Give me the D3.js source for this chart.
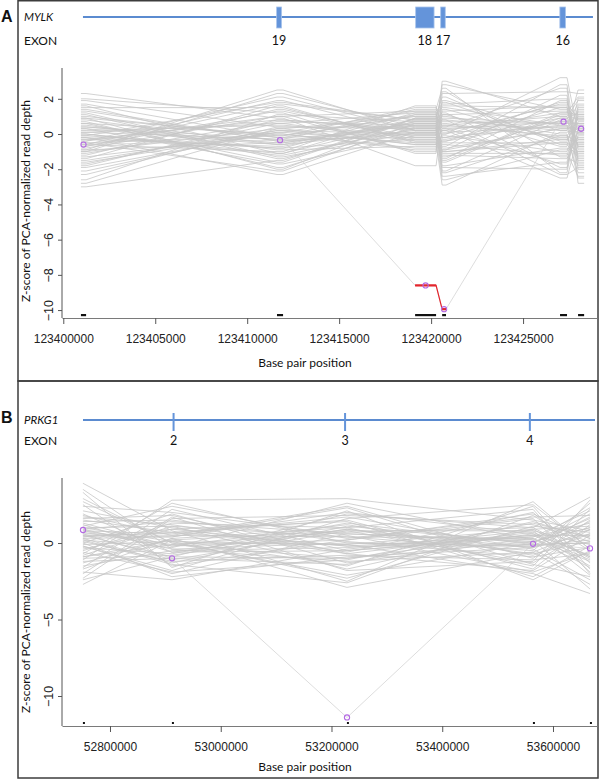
<!DOCTYPE html>
<html>
<head>
<meta charset="utf-8">
<script src="https://cdn.jsdelivr.net/npm/d3@7"></script>
<style>
  body { margin: 0; background: white; }
</style>
</head>
<body>
<main></main>
<script>
/* ---------- MYLK (panel A) ---------- */
const mylkProbeStart = [123400960, 123411620, 123419130, 123420600, 123427010, 123427990]
const mylkProbeEnd   = [123401240, 123411950, 123420270, 123420810, 123427390, 123428320]
const mylkExonNames  = ["19", "18", "17", "16"]
const mylkExonStart  = [123411600, 123419160, 123420520, 123427000]
const mylkExonEnd    = [123411870, 123420160, 123420770, 123427310]
const mylkGeneSpan   = [123401070, 123428800]
const mylkXTicks     = [123400000, 123405000, 123410000, 123415000, 123420000, 123425000]
const mylkYTicks     = [2, 0, -2, -4, -6, -8, -10]
const mylkCase       = [-0.6, -0.35, -8.6, -9.95, 0.7, 0.3]
const mylkCalled     = [2, 3]

// z-scores of the reference samples, one array per probe (same sample order)
const mylkP1 = [0.4, -1.2, 1.6, -0.3, -2.1, 0.9, -0.6, 0.1, -1.7, 1.1,
  -0.9, 0.6, -0.1, -2.6, 0.3, 1.9, -0.5, -1.4, 0.8, -0.2,
  2.3, -1.0, 0.0, -0.7, 1.3, -1.9, 0.5, -0.4, -3.0, 0.2,
  -1.1, 1.0, -0.8, 0.7, -1.5, -0.3, 1.5, -0.6, -2.3, 0.4,
  -0.1, 1.2, -1.3, 0.1, -0.9, 2.0, -0.5, -1.8, 0.9, -0.2,
  -1.0, 0.6, -2.8, 1.4, -0.4, 0.0, -1.6, 0.3, -0.7, 1.7]
const mylkP2 = [-0.5, 1.4, -1.1, 0.8, 0.2, -2.0, 1.9, -0.3, 0.6, -1.4,
  2.5, 0.0, -0.8, 1.1, -1.7, 0.4, -0.1, 1.6, -0.6, -2.3,
  0.9, 0.3, -1.2, 1.3, -0.4, 0.1, -0.9, 2.1, -1.5, 0.5,
  0.7, -0.2, 1.0, -1.9, 0.2, -0.7, 1.5, -1.0, 0.4, -0.3,
  1.8, -1.3, 0.0, 0.6, -0.5, 1.2, -2.1, 0.8, -0.1, -0.8,
  2.3, -1.6, 0.3, -0.4, 1.0, -1.1, 0.1, -0.6, 1.7, -0.2]
const mylkP3 = [0.6, -0.2, 1.1, 0.3, -0.6, 0.9, 0.0, 1.4, -0.4, 0.5,
  0.2, -0.9, 1.2, 0.7, -0.1, 0.4, 1.5, -0.5, 0.8, 0.1,
  -1.8, 1.0, 0.3, -0.3, 0.6, 1.3, -0.7, 0.2, 0.9, -0.1,
  0.5, 1.1, -1.0, 0.4, 0.0, 0.7, -0.4, 1.6, 0.3, -0.2,
  0.8, 0.1, -0.8, 1.2, 0.5, -1.1, 0.6, 0.2, 1.0, -0.3,
  0.4, 0.9, -0.6, 0.0, 1.3, 0.7, -0.5, 0.2, 0.8, 0.1]
const mylkP4 = [1.8, -0.9, 0.3, -2.4, 1.1, 0.5, -1.3, 2.6, -0.2, 0.8,
  -1.8, 0.0, 1.5, -0.6, 3.0, -1.0, 0.4, -2.9, 1.2, -0.4,
  0.9, 2.1, -1.5, 0.2, -0.8, 1.7, -0.1, -2.1, 0.6, 1.3,
  -1.2, 0.1, 2.3, -0.5, -1.6, 1.0, 0.3, -0.3, 2.8, -2.6,
  0.7, -0.7, 1.4, -1.1, 0.0, 1.9, -1.9, 0.5, -0.2, 1.1,
  -1.4, 2.4, -0.9, 0.2, -2.2, 0.8, -0.4, 1.6, -1.0, 0.4]
const mylkP5 = [-0.4, 2.2, 0.7, -1.6, 1.3, -0.1, 0.9, -2.2, 1.8, 0.2,
  -0.8, 3.2, 0.5, -1.2, 1.0, -0.3, 2.6, 0.1, -1.9, 1.5,
  0.6, -0.6, 1.2, -2.5, 0.3, 2.0, -1.0, 0.8, -0.2, 1.6,
  -1.4, 0.4, 2.4, -0.5, 1.1, 0.0, -1.7, 0.9, 1.4, -0.9,
  0.6, 2.8, -0.3, -1.1, 1.7, 0.2, -2.0, 1.0, 0.5, -0.7,
  1.9, -1.3, 0.3, 1.2, -0.1, -2.3, 0.7, 1.5, -0.5, 0.4]
const mylkP6 = [0.9, -1.5, 0.2, 1.6, -0.7, -2.2, 0.5, 1.1, -0.3, 2.5,
  -1.1, 0.0, -1.8, 0.7, 1.9, -0.5, -2.8, 0.3, 1.3, -0.9,
  0.6, -1.3, 2.1, -0.1, 0.4, -2.0, 1.0, -0.6, 1.5, -1.6,
  0.1, -0.4, 2.3, -1.0, 0.8, -2.5, 0.2, 1.2, -0.8, -0.2,
  1.7, -1.4, 0.5, -2.4, 0.9, -0.3, 1.4, -1.2, 0.0, 2.0,
  -0.7, -1.7, 0.6, 1.1, -0.5, -1.9, 0.3, 0.8, -1.0, 0.1]

/* ---------- PRKG1 (panel B) ---------- */
const prkgProbeStart = [52751100, 52911820, 53227850, 53563750, 53666690]
const prkgProbeEnd   = [52751390, 52912120, 53228150, 53564050, 53666980]
const prkgExonNames  = ["2", "3", "4"]
const prkgExonStart  = [52913000, 53222700, 53556400]
const prkgExonEnd    = [52914500, 53224200, 53557900]
const prkgGeneSpan   = [52751240, 53675860]
const prkgXTicks     = [52800000, 53000000, 53200000, 53400000, 53600000]
const prkgYTicks     = [0, -5, -10]
const prkgCase       = [0.85, -1.0, -11.4, -0.05, -0.35]
const prkgCalled     = []

const prkgP1 = [1.2, -0.8, 2.5, 0.3, -1.6, 0.7, 3.9, -0.2, 1.0, -2.3,
  0.5, 1.8, -1.1, 0.1, 2.9, -0.5, 0.9, -1.9, 1.5, 0.0,
  -0.9, 3.3, 0.4, -1.3, 1.1, -0.3, 2.1, 0.6, -2.7, 0.2,
  1.4, -0.6, 0.8, -1.5, 2.4, -0.1, 0.3, 1.7, -1.0, 0.5,
  -2.0, 1.3, 0.0, -0.4, 2.7, 0.9, -1.2, 0.6, 1.9, -0.7,
  0.2, -1.7, 1.0, 3.5, -0.2, 0.4, -0.9, 1.6, -2.4, 0.8]
const prkgP2 = [-0.6, 1.1, -1.5, 0.4, 2.2, -0.2, 0.8, -2.0, 0.1, 1.6,
  -0.9, 0.5, 2.8, -1.2, 0.0, 1.3, -0.4, -2.4, 0.7, 1.9,
  -0.1, -1.6, 0.9, 0.3, 2.4, -0.7, 1.0, -1.1, 0.2, -0.3,
  1.5, -1.9, 0.6, -0.5, 2.0, 0.1, -1.3, 1.2, -0.8, 0.4,
  1.7, -0.2, -2.2, 0.9, 0.0, 1.4, -1.0, 0.5, -0.6, 2.6,
  -1.4, 0.3, 1.1, -0.4, -1.8, 0.7, 0.2, 1.8, -0.9, -0.1]
const prkgP3 = [0.9, -1.7, 0.2, 2.3, -0.5, 1.2, -2.5, 0.6, -0.1, 1.8,
  -1.0, 0.4, 2.9, -0.8, -2.1, 1.0, 0.0, -0.4, 1.5, -1.3,
  0.7, 2.1, -0.2, -2.9, 0.3, 1.3, -0.7, 0.8, -1.5, 2.6,
  0.1, -1.1, 1.7, -0.3, 0.5, -2.3, 1.1, -0.6, 0.9, 2.0,
  -1.8, 0.2, -0.9, 1.4, -0.1, 0.6, -1.4, 2.4, -0.5, 0.0,
  -2.6, 1.0, 0.4, -1.2, 1.6, -0.2, 0.8, -0.7, 1.9, -1.0]
const prkgP4 = [-0.3, 0.9, 1.9, -1.4, 0.4, -0.8, 2.7, 0.1, -2.0, 1.2,
  0.6, -0.5, 1.5, -1.1, 0.0, 2.2, -0.2, 0.8, -1.7, 0.3,
  1.0, -2.4, 0.5, -0.6, 1.7, -0.1, 0.7, -1.3, 2.4, 0.2,
  -0.9, 1.3, -0.4, 0.4, -1.9, 1.1, 0.0, 2.0, -0.7, 0.6,
  -1.2, 1.6, -0.3, -2.2, 0.9, 0.2, 1.4, -1.0, 0.5, -0.1,
  1.8, -1.5, 0.3, -0.6, 2.5, -0.2, 0.8, -1.8, 1.0, 0.1]
const prkgP5 = [1.4, -1.0, 0.3, -2.2, 2.1, 0.6, -0.4, 1.0, -3.3, 0.1,
  -1.5, 2.6, 0.8, -0.7, 1.6, -2.0, 0.2, -0.1, 1.2, -1.2,
  3.0, -0.5, 0.5, -2.7, 1.8, 0.0, -0.9, 0.9, -1.7, 2.3,
  -0.3, 0.4, -2.4, 1.3, -0.6, 0.7, 1.9, -1.3, 0.1, -0.8,
  2.8, -1.9, 0.6, -0.2, 1.1, -3.0, 0.3, 1.5, -1.1, 0.0,
  -0.5, 2.2, -1.6, 0.9, -0.4, 1.7, -2.1, 0.5, -0.9, 1.0]

/* ---------- layout ---------- */
const svgWidth = 600
const svgHeight = 780
const plotLeft = 62
const plotRight = 597
const labelFont = "Lato, 'Open Sans', sans-serif"
const tickFont = "'Liberation Sans', Arial, sans-serif"

let svg = d3.select("main")
  .append("svg")
  .attr("width", svgWidth)
  .attr("height", svgHeight)
  .style("display", "block")
  .style("background-color", "white")

const panels = [
  {
    letter: "A", gene: "MYLK", boxTop: 0.75, boxBottom: 381,
    letterY: 22, geneY: 17, exonTop: 7, exonBottom: 28, exonLabelY: 45, exonMinW: 4,
    xDomain: [123399930, 123429020], yDomain: [-10.45, 3.75], plotTop: 68, plotBottom: 318,
    xTitleY: 367, yTitleY: 201, rugH: 2.2,
    probeStart: mylkProbeStart, probeEnd: mylkProbeEnd,
    columns: [mylkP1, mylkP2, mylkP3, mylkP4, mylkP5, mylkP6],
    caseVals: mylkCase, called: mylkCalled, yTicks: mylkYTicks, xTicks: mylkXTicks,
    exonNames: mylkExonNames, exonStart: mylkExonStart, exonEnd: mylkExonEnd, geneSpan: mylkGeneSpan
  },
  {
    letter: "B", gene: "PRKG1", boxTop: 381, boxBottom: 778,
    letterY: 423, geneY: 420, exonTop: 413, exonBottom: 431, exonLabelY: 445, exonMinW: 2,
    xDomain: [52713320, 53679460], yDomain: [-11.96, 4.25], plotTop: 478, plotBottom: 726,
    xTitleY: 771, yTitleY: 612, rugH: 2,
    probeStart: prkgProbeStart, probeEnd: prkgProbeEnd,
    columns: [prkgP1, prkgP2, prkgP3, prkgP4, prkgP5],
    caseVals: prkgCase, called: prkgCalled, yTicks: prkgYTicks, xTicks: prkgXTicks,
    exonNames: prkgExonNames, exonStart: prkgExonStart, exonEnd: prkgExonEnd, geneSpan: prkgGeneSpan
  }
]

panels.forEach(drawPanel)

function drawPanel(p) {
  let g = svg.append("g")

  let xScale = d3.scaleLinear().domain(p.xDomain).range([plotLeft, plotRight])
  let yScale = d3.scaleLinear().domain(p.yDomain).range([p.plotBottom, p.plotTop])

  // rows = samples, built from the per-probe arrays
  let samples = p.columns[0].map((d, i) => p.columns.map((col) => col[i]))

  /* panel frame and letter */
  g.append("rect")
    .attr("x", 18)
    .attr("y", p.boxTop)
    .attr("width", 580)
    .attr("height", p.boxBottom - p.boxTop)
    .attr("fill", "none")
    .attr("stroke", "#3c3c3c")
    .attr("stroke-width", 1.5)

  g.append("text")
    .attr("x", 1)
    .attr("y", p.letterY)
    .style("font", "bold 16px " + tickFont)
    .attr("fill", "#111")
    .text(p.letter)

  /* gene track */
  g.append("text")
    .attr("x", 24)
    .attr("y", p.geneY + 4)
    .style("font", "italic 11.5px " + labelFont)
    .attr("fill", "#111")
    .text(p.gene)

  g.append("text")
    .attr("x", 24)
    .attr("y", p.exonLabelY)
    .style("font", "12px " + labelFont)
    .attr("fill", "#111")
    .text("EXON")

  g.append("line")
    .attr("x1", xScale(p.geneSpan[0]))
    .attr("x2", xScale(p.geneSpan[1]))
    .attr("y1", p.geneY)
    .attr("y2", p.geneY)
    .attr("stroke", "#5b8bd0")
    .attr("stroke-width", 2)

  p.exonNames.forEach((name, i) => {
    let x0 = xScale(p.exonStart[i])
    let w = Math.max(p.exonMinW, xScale(p.exonEnd[i]) - x0)
    g.append("rect")
      .attr("x", x0)
      .attr("y", p.exonTop)
      .attr("width", w)
      .attr("height", p.exonBottom - p.exonTop)
      .attr("fill", "#6494da")
      .attr("stroke", p.exonMinW > 2 ? "#a9c4ec" : "none")
      .attr("stroke-width", 0.8)
    g.append("text")
      .attr("x", x0 + w / 2)
      .attr("y", p.exonLabelY)
      .attr("text-anchor", "middle")
      .style("font", "12.5px " + labelFont)
      .attr("fill", "#111")
      .text(name)
  })

  /* sample lines: flat across each probe, joined between probes */
  let line = d3.line()
  let pathFor = (vals) => line(vals.flatMap((v, i) => [
    [xScale(p.probeStart[i]), yScale(v)],
    [xScale(p.probeEnd[i]), yScale(v)]
  ]))

  g.append("g")
    .selectAll("path")
    .data(samples)
    .enter()
    .append("path")
    .attr("d", pathFor)
    .attr("fill", "none")
    .attr("stroke", "#c6c6c6")
    .attr("stroke-width", 0.8)

  g.append("path")
    .attr("d", pathFor(p.caseVals))
    .attr("fill", "none")
    .attr("stroke", "#cfcfcf")
    .attr("stroke-width", 0.7)

  /* called probes in red */
  if (p.called.length > 0) {
    let redPts = p.called.flatMap((i) => [
      [xScale(p.probeStart[i]), yScale(p.caseVals[i])],
      [xScale(p.probeEnd[i]), yScale(p.caseVals[i])]
    ])
    g.append("path")
      .attr("d", line(redPts))
      .attr("fill", "none")
      .attr("stroke", "#e3262d")
      .attr("stroke-width", 1.2)
    p.called.forEach((i) => {
      g.append("line")
        .attr("x1", xScale(p.probeStart[i]))
        .attr("x2", xScale(p.probeEnd[i]))
        .attr("y1", yScale(p.caseVals[i]))
        .attr("y2", yScale(p.caseVals[i]))
        .attr("stroke", "#e3262d")
        .attr("stroke-width", 2.2)
    })
  }

  g.append("g")
    .selectAll("circle")
    .data(p.caseVals)
    .enter()
    .append("circle")
    .attr("cx", (d, i) => (xScale(p.probeStart[i]) + xScale(p.probeEnd[i])) / 2)
    .attr("cy", (d) => yScale(d))
    .attr("r", 2.6)
    .attr("fill", "none")
    .attr("stroke", "#b469e4")
    .attr("stroke-width", 1.1)

  /* probe rug */
  g.append("g")
    .selectAll("rect")
    .data(p.probeStart)
    .enter()
    .append("rect")
    .attr("x", (d) => xScale(d))
    .attr("y", p.plotBottom - 4)
    .attr("width", (d, i) => Math.max(2, xScale(p.probeEnd[i]) - xScale(d)))
    .attr("height", p.rugH)
    .attr("fill", "#111")

  /* axes */
  let bottomAxis = d3.axisBottom(xScale)
    .tickValues(p.xTicks)
    .tickFormat(d3.format("d"))
    .tickSize(6)
    .tickSizeOuter(0)
    .tickPadding(10)

  let xAxis = g.append("g")
    .attr("transform", `translate(0, ${p.plotBottom})`)
    .call(bottomAxis)

  xAxis.select(".domain").attr("stroke", "#7a7a7a")
  xAxis.selectAll("line").attr("stroke", "#555")
  xAxis.selectAll("text")
    .style("font", "12px " + tickFont)
    .attr("fill", "#222")

  let leftAxis = d3.axisLeft(yScale)
    .tickValues(p.yTicks)
    .tickSize(4)
    .tickSizeOuter(0)

  let yAxis = g.append("g")
    .attr("transform", `translate(${plotLeft}, 0)`)
    .call(leftAxis)

  yAxis.select(".domain")
    .attr("stroke", "#555")
    .attr("d", `M0,${p.plotTop}V${p.plotBottom}`)
  yAxis.selectAll("line").attr("stroke", "#555")
  yAxis.selectAll("text")
    .attr("x", 0)
    .attr("dy", "0.35em")
    .attr("text-anchor", "middle")
    .attr("transform", "translate(-13, 0) rotate(-90)")
    .style("font", "12.5px " + tickFont)
    .attr("fill", "#222")

  /* axis titles */
  g.append("text")
    .attr("x", 305)
    .attr("y", p.xTitleY)
    .attr("text-anchor", "middle")
    .style("font", "12px " + labelFont)
    .attr("fill", "#111")
    .text("Base pair position")

  g.append("text")
    .attr("transform", `translate(30, ${p.yTitleY}) rotate(-90)`)
    .attr("text-anchor", "middle")
    .style("font", "12px " + labelFont)
    .attr("fill", "#111")
    .text("Z-score of PCA-normalized read depth")
}
</script>
</body>
</html>
